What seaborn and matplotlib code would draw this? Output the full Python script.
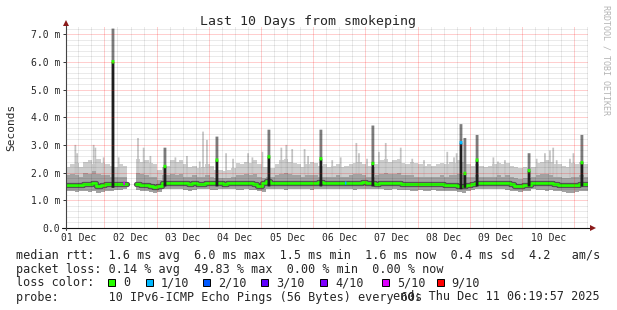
import numpy as np
import pandas as pd
import matplotlib
matplotlib.use("Agg")
import matplotlib.pyplot as plt
import seaborn as sns
from matplotlib.patches import Rectangle

nan = np.nan

# ---------------- data (ms, 2-hour bins from Dec 01 06:19:57) ----------------
BIN_H = 2.0
median_ms = [
    1.57, 1.56, 1.55, 1.56, 1.58, 1.60, 1.62, 1.53, 1.56, 1.60, 1.60, 1.58,
    1.58, 1.60, nan, nan, 1.58, 1.57, 1.55, 1.52, 1.49, 1.52, 1.63, 1.64,
    1.63, 1.62, 1.63, 1.64, 1.60, 1.62, 1.58, 1.60, 1.62, 1.63, 1.64, 1.63,
    1.60, 1.63, 1.62, 1.62, 1.64, 1.63, 1.62, 1.60, 1.50, 1.62, 1.68, 1.64,
    1.64, 1.64, 1.64, 1.63, 1.64, 1.64, 1.63, 1.62, 1.63, 1.63, 1.65, 1.64,
    1.63, 1.62, 1.63, 1.63, 1.64, 1.62, 1.64, 1.64, 1.65, 1.64, 1.64, 1.60,
    1.63, 1.63, 1.63, 1.62, 1.62, 1.60, 1.60, 1.58, 1.60, 1.58, 1.60, 1.58,
    1.60, 1.60, 1.58, 1.57, 1.57, 1.55, 1.52, 1.50, 1.55, 1.60, 1.62, 1.63,
    1.63, 1.63, 1.63, 1.62, 1.62, 1.63, 1.58, 1.52, 1.52, 1.55, 1.56, 1.62,
    1.62, 1.62, 1.63, 1.62, 1.60, 1.57, 1.57, 1.56, 1.55, 1.55, 1.58, 1.60,
]
low_ms = [
    1.35, 1.35, 1.30, 1.35, 1.32, 1.30, 1.35, 1.28, 1.30, 1.35, 1.35, 1.38,
    1.38, 1.40, nan, nan, 1.38, 1.35, 1.33, 1.30, 1.28, 1.30, 1.40, 1.42,
    1.40, 1.40, 1.42, 1.38, 1.35, 1.38, 1.40, 1.40, 1.40, 1.38, 1.38, 1.40,
    1.42, 1.40, 1.40, 1.38, 1.38, 1.40, 1.38, 1.36, 1.32, 1.30, 1.40, 1.42,
    1.40, 1.40, 1.38, 1.40, 1.40, 1.40, 1.42, 1.40, 1.38, 1.40, 1.40, 1.42,
    1.42, 1.40, 1.40, 1.42, 1.40, 1.40, 1.38, 1.40, 1.40, 1.42, 1.40, 1.40,
    1.40, 1.38, 1.38, 1.40, 1.38, 1.38, 1.36, 1.35, 1.35, 1.36, 1.34, 1.35,
    1.36, 1.35, 1.34, 1.35, 1.34, 1.32, 1.30, 1.28, 1.32, 1.38, 1.40, 1.42,
    1.42, 1.42, 1.40, 1.40, 1.40, 1.38, 1.35, 1.32, 1.30, 1.32, 1.35, 1.40,
    1.38, 1.36, 1.35, 1.36, 1.35, 1.33, 1.30, 1.28, 1.28, 1.30, 1.32, 1.35,
]
inner_high_ms = [
    1.90, 1.95, 1.90, 1.85, 2.00, 1.95, 2.05, 1.95, 1.90, 1.90, 1.85, 1.85,
    1.85, 1.85, nan, nan, 2.00, 1.95, 1.90, 1.85, 1.85, 1.75, 1.90, 1.90,
    1.95, 1.90, 1.95, 1.85, 1.85, 1.90, 1.85, 1.85, 1.90, 1.85, 1.80, 1.80,
    1.80, 1.82, 1.85, 1.90, 1.90, 1.95, 1.90, 1.95, 1.85, 1.80, 1.85, 1.85,
    1.90, 1.95, 2.00, 1.95, 1.90, 1.90, 1.85, 1.90, 1.90, 1.90, 1.85, 1.85,
    1.85, 1.85, 1.90, 1.85, 1.85, 1.90, 1.95, 1.95, 1.90, 1.85, 1.85, 1.90,
    1.95, 2.00, 1.95, 1.95, 2.00, 1.90, 1.90, 1.90, 1.85, 1.85, 1.85, 1.85,
    1.85, 1.85, 1.90, 1.85, 1.90, 1.90, 1.95, 1.90, 1.85, 1.85, 1.90, 1.85,
    1.85, 1.85, 1.85, 1.90, 1.85, 1.90, 1.85, 1.80, 1.78, 1.80, 1.80, 1.85,
    1.90, 1.95, 1.95, 1.90, 1.85, 1.85, 1.80, 1.80, 1.85, 1.85, 1.90, 1.85,
]
high_ms = [
    2.20, 2.30, 2.35, 2.20, 2.40, 2.45, 2.30, 2.50, 2.35, 2.30, 2.25, 2.20,
    2.30, 2.25, nan, nan, 2.50, 2.40, 2.45, 2.35, 2.30, 2.10, 2.20, 2.25,
    2.45, 2.40, 2.45, 2.30, 2.20, 2.25, 2.15, 2.20, 2.30, 2.25, 2.10, 2.10,
    2.05, 2.10, 2.15, 2.35, 2.30, 2.40, 2.35, 2.45, 2.30, 2.20, 2.20, 2.15,
    2.30, 2.45, 2.50, 2.40, 2.35, 2.30, 2.20, 2.30, 2.40, 2.35, 2.25, 2.30,
    2.20, 2.25, 2.30, 2.20, 2.25, 2.30, 2.35, 2.40, 2.30, 2.25, 2.20, 2.30,
    2.45, 2.50, 2.40, 2.45, 2.50, 2.35, 2.30, 2.40, 2.35, 2.30, 2.25, 2.30,
    2.25, 2.30, 2.35, 2.30, 2.40, 2.35, 2.45, 2.40, 2.30, 2.25, 2.30, 2.25,
    2.20, 2.25, 2.30, 2.35, 2.30, 2.35, 2.25, 2.20, 2.15, 2.20, 2.15, 2.20,
    2.35, 2.40, 2.45, 2.40, 2.30, 2.30, 2.25, 2.20, 2.35, 2.30, 2.40, 2.30,
]

# daily latency spikes (hours since start)
spike_hour = [21.6, 45.5, 69.4, 93.3, 117.2, 141.1, 181.6, 183.4, 189.0, 212.9, 237.2]
spike_low = [1.45, 1.50, 1.50, 1.50, 1.50, 1.50, 1.40, 1.45, 1.50, 1.50, 1.50]
spike_med = [6.00, 2.22, 2.45, 2.57, 2.50, 2.33, 3.08, 1.97, 2.45, 2.07, 2.36]
spike_high = [7.20, 2.90, 3.30, 3.55, 3.55, 3.70, 3.75, 3.25, 3.36, 2.70, 3.36]
spike_loss = [0, 0, 0, 0, 0, 0, 1, 0, 0, 0, 0]

# thin smoke streaks (max ping outliers)
streak_hour = [4.3, 5.1, 12.7, 13.5, 17.3, 24.2, 33.1, 35.7, 38.8, 50.3,
               55.6, 61.5, 63.0, 64.8, 73.6, 76.8, 83.7, 85.7, 90.3, 99.0,
               101.3, 104.0, 109.7, 111.3, 122.4, 126.3, 133.5, 134.7, 138.4, 143.9,
               147.0, 153.9, 159.2, 164.6, 175.3, 178.4, 179.6, 196.5, 198.6, 201.8,
               216.4, 220.2, 222.5, 224.0, 225.6, 231.7, 233.3]
streak_top = [3.00, 2.70, 3.00, 2.90, 2.55, 2.55, 3.25, 2.90, 2.60, 2.55,
              2.60, 2.40, 3.48, 3.18, 2.70, 2.50, 2.70, 2.55, 2.75, 2.90,
              3.00, 2.85, 2.85, 2.60, 2.45, 2.55, 3.07, 2.70, 2.50, 2.75,
              3.07, 2.90, 2.50, 2.45, 2.75, 2.55, 2.70, 2.55, 2.40, 2.45,
              2.50, 2.70, 2.80, 2.90, 2.45, 2.50, 2.70]

# isolated median points with packet loss
loss_mark_hour = [26.7, 128.6]
loss_mark_value = [1.61, 1.62]
loss_mark_level = [5, 1]

day_labels = ["01 Dec", "02 Dec", "03 Dec", "04 Dec", "05 Dec",
              "06 Dec", "07 Dec", "08 Dec", "09 Dec", "10 Dec"]
y_tick_values = [0, 1, 2, 3, 4, 5, 6, 7]
y_tick_labels = ["0.0", "1.0 m", "2.0 m", "3.0 m", "4.0 m", "5.0 m", "6.0 m", "7.0 m"]

loss_labels = ["0", "1/10", "2/10", "3/10", "4/10", "5/10", "9/10"]
loss_colors = ["#26ff00", "#00b8ff", "#0059ff", "#5e00ff", "#7e00ff", "#dd00ff", "#ff0000"]

legend_rtt = "median rtt:  1.6 ms avg  6.0 ms max  1.5 ms min  1.6 ms now  0.4 ms sd  4.2   am/s"
legend_loss = "packet loss: 0.14 % avg  49.83 % max  0.00 % min  0.00 % now"
legend_probe = "probe:       10 IPv6-ICMP Echo Pings (56 Bytes) every 60s"
legend_end = "end: Thu Dec 11 06:19:57 2025"
title = "Last 10 Days from smokeping"

# ---------------- figure ----------------
sns.set_theme(style="white")
plt.rcParams["font.family"] = ["DejaVu Sans Mono", "DejaVu Sans"]

W, H = 617, 310
fig = plt.figure(figsize=(W / 100, H / 100), dpi=100)
fig.patch.set_facecolor("white")
AX_L, AX_R, AX_B, AX_T = 66, 588, 228, 27.2
ax = fig.add_axes([AX_L / W, 1 - AX_B / H, (AX_R - AX_L) / W, (AX_B - AX_T) / H])
ax.set_facecolor("white")
ax.set_xlim(0, 240)
ax.set_ylim(0, 7.25)
for s in ax.spines.values():
    s.set_visible(False)

edges = np.arange(len(median_ms) + 1) * BIN_H
xs = np.repeat(edges, 2)[1:-1]


def steps(v):
    return np.repeat(np.asarray(v, float), 2)


lo_s, mid_s, hi_s, med_s = steps(low_ms), steps(inner_high_ms), steps(high_ms), steps(median_ms)

# smoke
ax.fill_between(xs, lo_s, hi_s, color="#cdcdcd", lw=0, zorder=1)
ax.bar(streak_hour, np.array(streak_top) - 1.7, bottom=1.7, width=0.8,
       color="#c4c4c4", lw=0, zorder=1.5, snap=False)
ax.fill_between(xs, lo_s, mid_s, color="#a2a2a2", lw=0, zorder=2)

# median line (segments split at gaps)
seg = np.cumsum(np.isnan(med_s))
df = pd.DataFrame({"t": xs, "v": med_s, "seg": seg}).dropna()
sns.lineplot(data=df, x="t", y="v", units="seg", estimator=None, sort=False, ax=ax,
             color="#555555", lw=3.8, legend=False, zorder=3)
sns.lineplot(data=df, x="t", y="v", units="seg", estimator=None, sort=False, ax=ax,
             color=loss_colors[0], lw=2.0, legend=False, zorder=3.5)

# spikes
sh = np.array(spike_hour)
SPW = 1.3
ax.bar(sh, np.array(spike_med) - np.array(spike_low), bottom=spike_low, width=SPW,
       color="#1e1e1e", lw=0, zorder=4, snap=False)
ax.bar(sh, np.array(spike_high) - np.array(spike_med), bottom=spike_med, width=SPW,
       color="#7c7c7c", lw=0, zorder=4, snap=False)
ax.hlines(spike_med, sh - SPW / 2, sh + SPW / 2, colors=[loss_colors[i] for i in spike_loss],
          lw=2.4, zorder=5, snap=False)
lm = np.array(loss_mark_hour)
ax.hlines(loss_mark_value, lm - 0.35, lm + 0.35, colors=[loss_colors[i] for i in loss_mark_level],
          lw=2.4, zorder=5, snap=False)

# grid (drawn on top, semi-transparent)
dot = (0, (1, 1))
for v in np.arange(0.2, 7.21, 0.2):
    if abs(v - round(v)) > 1e-6:
        ax.axhline(v, color="#000000", alpha=0.16, lw=0.72, ls=dot, zorder=7)
for v in range(1, 8):
    ax.axhline(v, color="#ff0000", alpha=0.38, lw=0.72, ls=dot, zorder=7)
noon0 = 5.6675
for k in range(0, 41):
    h = noon0 + 6 * k
    if h > 240:
        break
    if k % 4 == 2:
        ax.axvline(h, color="#ff0000", alpha=0.38, lw=0.72, ls=dot, zorder=7)
    else:
        ax.axvline(h, color="#000000", alpha=0.16, lw=0.72, ls=dot, zorder=7)

# ticks
ax.set_yticks(y_tick_values)
ax.set_yticklabels(y_tick_labels)
ax.set_xticks([noon0 + 24 * i for i in range(len(day_labels))])
ax.set_xticklabels(day_labels)
ax.tick_params(axis="y", length=2.2, width=0.7, color="#333333", pad=2.0, labelsize=7, left=True)
ax.tick_params(axis="x", length=0, pad=3.6, labelsize=7)
ax.set_xlabel("")
ax.set_ylabel("")

# axes lines with arrows
pw, ph = AX_R - AX_L, AX_B - AX_T
ax.plot([-4 / pw, 1 + 2 / pw], [0, 0], color="#111111", lw=0.8,
        transform=ax.transAxes, clip_on=False, zorder=8)
ax.plot([0, 0], [-2 / ph, 1 + 2 / ph], color="#444444", lw=0.8,
        transform=ax.transAxes, clip_on=False, zorder=8)
ax.plot([1 + 4.5 / pw], [0], marker=">", ms=4.2, color="#8b1a1a", mew=0,
        transform=ax.transAxes, clip_on=False, zorder=9)
ax.plot([0], [1 + 3.7 / ph], marker="^", ms=4.2, color="#8b1a1a", mew=0,
        transform=ax.transAxes, clip_on=False, zorder=9)

# texts
fig.text(307.5 / W, 1 - 25 / H, title, ha="center", va="baseline", fontsize=9.5)
fig.text(11 / W, 1 - 127.5 / H, "Seconds", rotation=90, ha="center", va="center", fontsize=8)
fig.text(606 / W, 1 - 5 / H, "RRDTOOL / TOBI OETIKER", rotation=270, ha="center", va="top",
         fontsize=6, color="#b4b4b4")

LX = 16
fig.text(LX / W, 1 - 259 / H, legend_rtt, ha="left", va="baseline", fontsize=8.5)
fig.text(LX / W, 1 - 272.7 / H, legend_loss, ha="left", va="baseline", fontsize=8.5)
fig.text(LX / W, 1 - 286.5 / H, "loss color:", ha="left", va="baseline", fontsize=8.5)
box_x = [108.3, 146.0, 203.3, 260.7, 320.0, 381.7, 436.7]
for bx, lab, col in zip(box_x, loss_labels, loss_colors):
    fig.patches.append(Rectangle((bx / W, 1 - 286.3 / H), 7 / W, 7 / H, transform=fig.transFigure,
                                 facecolor=col, edgecolor="black", lw=0.7))
    fig.text((bx + 15) / W, 1 - 286.5 / H, lab, ha="left", va="baseline", fontsize=8.5)
fig.text(LX / W, 1 - 300.5 / H, legend_probe, ha="left", va="baseline", fontsize=8.5)
fig.text(600 / W, 1 - 300.5 / H, legend_end, ha="right", va="baseline", fontsize=8.5)

fig.savefig("out.png", dpi=100, facecolor="white")
